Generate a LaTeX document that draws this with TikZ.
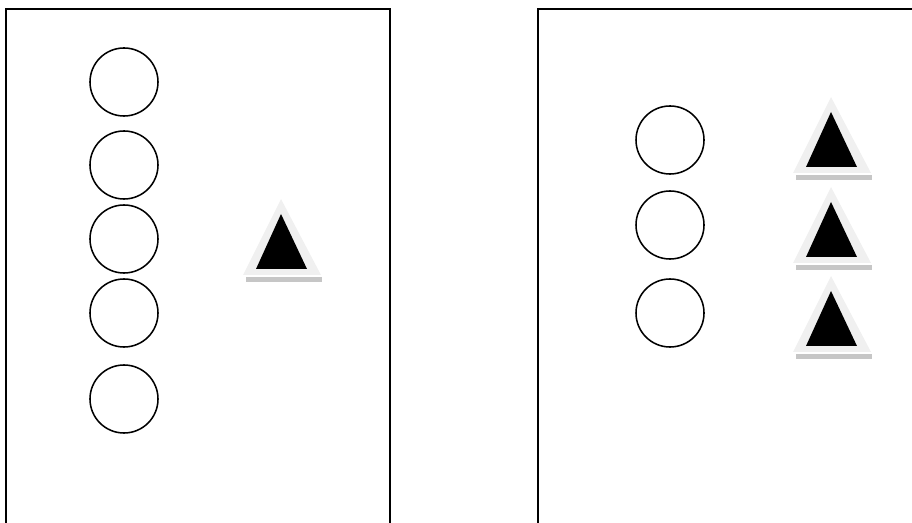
\documentclass[tikz,border=0pt]{standalone}
\usepackage{tikz}

\tikzset{
  panel/.style={line width=1.4pt, black},
  dot/.style={circle, draw=black, line width=1.1pt, minimum size=1.7cm, inner sep=0pt},
}

\begin{document}
\begin{tikzpicture}[x=0.025cm,y=-0.025cm]
  \useasboundingbox (0,0) rectangle (912,523);

  % left panel
  \draw[panel] (6,530) -- (6,9) -- (390,9) -- (390,530);
  \foreach \i/\y in {1/82,2/165,3/239,4/313,5/399} {
    \node[dot] (l\i) at (124,\y) {};
  }
  \coordinate (lt) at (282,275);

  % right panel
  \draw[panel] (538,530) -- (538,9) -- (915,9);
  \foreach \i/\y in {1/140,2/225,3/313} {
    \node[dot] (r\i) at (670,\y) {};
  }
  \coordinate (rt1) at (832,173);
  \coordinate (rt2) at (832,263);
  \coordinate (rt3) at (832,352);

  % triangles (base centre as anchor)
  \foreach \t in {lt,rt1,rt2,rt3} {
    \fill[gray!45] ([shift={(-36,2)}]\t) rectangle ([shift={(40,7)}]\t);
    \fill[gray!12] ([shift={(-39,0)}]\t) -- ([shift={(-1,-76)}]\t)
      -- ([shift={(39,0)}]\t) -- cycle;
    \fill[black] ([shift={(-26,-6)}]\t) -- ([shift={(-1,-61)}]\t)
      -- ([shift={(25,-6)}]\t) -- cycle;
  }
\end{tikzpicture}
\end{document}
